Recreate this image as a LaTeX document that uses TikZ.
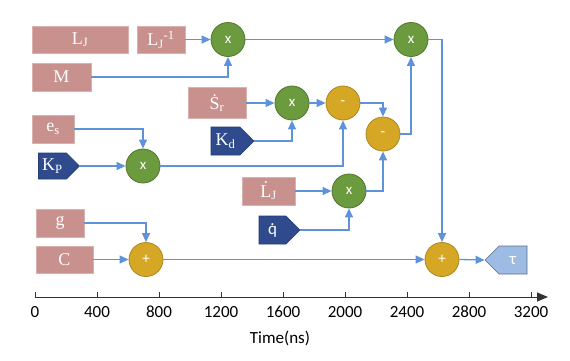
\documentclass[tikz,border=0pt]{standalone}
\usepackage{fontspec}
\setmainfont{Liberation Serif}
\newfontfamily\calib{Carlito}
\usepackage{xcolor}
\usetikzlibrary{arrows.meta,shapes.symbols}

\definecolor{pinkc}{HTML}{C8918D}
\definecolor{navyc}{HTML}{2F4B8E}
\definecolor{greenc}{HTML}{6B9B3E}
\definecolor{yellowc}{HTML}{D6A725}
\definecolor{tauc}{HTML}{9DBBE3}
\definecolor{linec}{HTML}{5F93D9}

\newcommand{\qdot}{\ooalign{q\cr\hidewidth\raisebox{0.52em}{.}\hidewidth\cr}}

\begin{document}
\begin{tikzpicture}[
    x=1pt, y=-1pt,
    >={Triangle[length=9pt,width=8pt]},
    inbox/.style={rectangle, draw=pinkc!70!white, fill=pinkc, line width=0.8pt,
                  text=white, inner sep=0pt, font=\fontsize{18}{18}\selectfont},
    gain/.style={signal, signal to=east, draw=navyc!80!black, fill=navyc,
                 line width=0.6pt, text=white, inner sep=0pt,
                 font=\fontsize{18}{18}\selectfont},
    mult/.style={circle, draw=greenc!75!black, fill=greenc, line width=0.8pt,
                 minimum size=34pt, inner sep=0pt, text=white,
                 font=\calib\fontsize{15}{15}\selectfont},
    addsub/.style={circle, draw=yellowc!80!black, fill=yellowc, line width=0.8pt,
                   minimum size=34pt, inner sep=0pt, text=white,
                   font=\calib\fontsize{15}{15}\selectfont},
    outtag/.style={signal, signal to=west, draw=tauc!60!black, fill=tauc,
                   line width=0.6pt, text=white, inner sep=0pt,
                   minimum width=42pt, minimum height=28pt,
                   font=\calib\fontsize{17}{17}\selectfont},
    flow/.style={->, line width=1.3pt, linec},
    ticklbl/.style={font=\calib\fontsize{17}{17}\selectfont, inner sep=0pt},
]
\useasboundingbox (0,0) rectangle (570,360);

% --- input boxes ---
\node[inbox, minimum width=96pt, minimum height=27pt] (LJ) at (80,39.5) {L\textsubscript{J}};
\node[inbox, minimum width=48pt, minimum height=27pt] (LJinv) at (161,39.5) {L\textsubscript{J}\textsuperscript{-1}};
\node[inbox, minimum width=59pt, minimum height=28pt] (M) at (61.5,77) {M};
\node[inbox, minimum width=58pt, minimum height=31pt] (Sr) at (217,103) {\.S\textsubscript{r}};
\node[inbox, minimum width=42pt, minimum height=28pt] (es) at (53,129) {e\textsubscript{s}};
\node[inbox, minimum width=53pt, minimum height=28pt] (LJdot) at (268.5,191) {\.L\textsubscript{J}};
\node[inbox, minimum width=48pt, minimum height=28pt] (g) at (60,223) {g};
\node[inbox, minimum width=57pt, minimum height=27pt] (C) at (64.5,259.5) {C};

% --- gains ---
\node[gain, minimum width=41pt, minimum height=26pt] (KP) at (52.5,166) {K\textsubscript{P}};
\node[gain, minimum width=43pt, minimum height=28pt] (Kd) at (225.5,141) {K\textsubscript{d}};
\node[gain, minimum width=41pt, minimum height=28pt, font=\calib\fontsize{17}{17}\selectfont] (qd) at (272.5,230) {\qdot};

% --- operators ---
\node[mult] (x1) at (228,39.5) {x};
\node[mult] (x2) at (292,103) {x};
\node[mult] (x3) at (143,166) {x};
\node[mult] (x4) at (411,39.5) {x};
\node[mult] (x5) at (349,191) {x};
\node[addsub] (m1) at (343,103) {-};
\node[addsub] (m2) at (383,134) {-};
\node[addsub] (p1) at (146,259.5) {+};
\node[addsub] (p2) at (442,259.5) {+};

% --- output ---
\node[outtag] (tau) at (513,260) {τ};

% --- connectors ---
\draw[flow] (LJinv.east) -- (x1.west);
\draw[flow] (M.east) -| (x1.south);
\draw[flow] (Sr.east) -- (x2.west);
\draw[flow] (Kd.east) -| (x2.south);
\draw[flow] (es.east) -| (x3.north);
\draw[flow] (KP.east) -- (x3.west);
\draw[flow] (x2.east) -- (m1.west);
\draw[flow] (x3.east) -| (m1.south);
\draw[flow] (m1.east) -| (m2.north);
\draw[flow] (LJdot.east) -- (x5.west);
\draw[flow] (qd.east) -| (x5.south);
\draw[flow] (x5.east) -| (m2.south);
\draw[flow] (m2.east) -| (x4.south);
\draw[flow] (x1.east) -- (x4.west);
\draw[flow] (x4.east) -| (p2.north);
\draw[flow] (g.east) -| (p1.north);
\draw[flow] (C.east) -- (p1.west);
\draw[flow] (p1.east) -- (p2.west);
\draw[flow] (p2.east) -- (tau.west);

% --- time axis ---
\coordinate (ax0) at (35,297);
\coordinate (ax1) at (548,297);
\draw[line width=1pt, black!80, -{Triangle[length=11pt,width=9pt]}] (ax0) -- (ax1);
\foreach \t in {0,400,...,3200} {
  \draw[line width=1pt, black!80] ({35+\t*0.155},297) -- ({35+\t*0.155},292);
  \node[ticklbl] (tick\t) at ({35+\t*0.155},312) {\t};
}
\node[ticklbl] (tlabel) at (280,338) {Time(ns)};
\end{tikzpicture}
\end{document}
